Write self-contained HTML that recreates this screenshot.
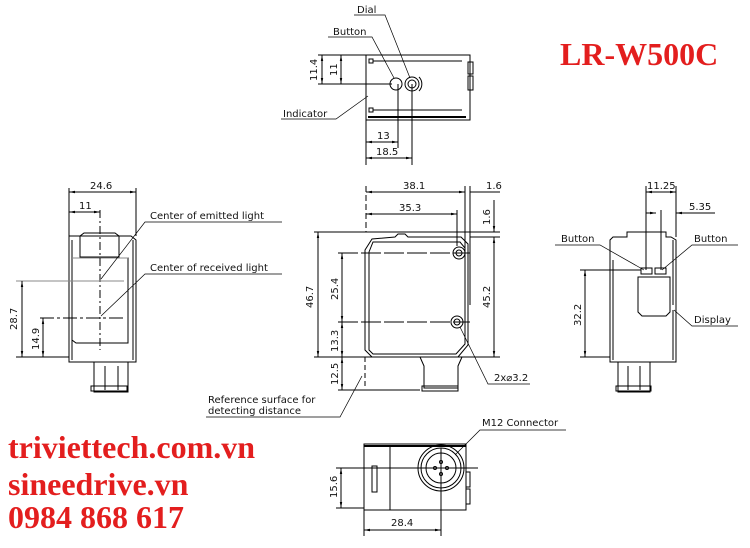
<!DOCTYPE html>
<html><head><meta charset="utf-8"><style>
html,body{margin:0;padding:0;background:#fff;}
svg{display:block;}
.t{font-family:"DejaVu Sans","Liberation Sans",sans-serif;font-size:10px;fill:#111;}
.r{font-family:"Liberation Serif",serif;font-weight:bold;fill:#e31e1e;}
</style></head><body>
<svg width="750" height="548" viewBox="0 0 750 548" xmlns="http://www.w3.org/2000/svg">
<defs><marker id="a" viewBox="0 0 10 10" refX="10" refY="5" markerWidth="6" markerHeight="6" orient="auto-start-reverse"><path d="M0,3L10,5L0,7z" fill="#000"/></marker></defs>
<g stroke="#000" stroke-width="1" fill="none">
<!-- TOP VIEW -->
<rect x="366" y="55" width="104" height="65"/>
<line x1="368" y1="117" x2="466" y2="117" stroke-width="2"/>
<rect x="468" y="62" width="5" height="12"/><rect x="468" y="76" width="5" height="14"/>
<rect x="369" y="59" width="4" height="4"/><line x1="373" y1="61" x2="462" y2="61"/>
<rect x="369" y="108" width="4" height="4"/><line x1="373" y1="110" x2="462" y2="110"/>
<circle cx="396" cy="84" r="6"/><circle cx="412" cy="84" r="7"/><circle cx="412" cy="84" r="4"/>
<path d="M419,77 a10,10 0 0 1 0,14"/>
<line x1="318" y1="84" x2="392" y2="84"/><line x1="318" y1="55" x2="366" y2="55"/>
<line x1="322" y1="55" x2="322" y2="84" marker-start="url(#a)" marker-end="url(#a)"/>
<line x1="341" y1="55" x2="341" y2="84" marker-start="url(#a)" marker-end="url(#a)"/>
<line x1="366" y1="120" x2="366" y2="165"/><line x1="398" y1="84" x2="398" y2="148"/><line x1="412" y1="84" x2="412" y2="165"/>
<line x1="366" y1="142" x2="398" y2="142" marker-start="url(#a)" marker-end="url(#a)"/>
<line x1="366" y1="158" x2="412" y2="158" marker-start="url(#a)" marker-end="url(#a)"/>
<polyline points="354,15 385,15 410,78" stroke-width="0.7"/>
<polyline points="328,37 372,37 394,78" stroke-width="0.7"/>
<polyline points="281,119 336,119 368,96" stroke-width="0.7"/>
<!-- LEFT VIEW -->
<path d="M69,240 L69,362 L136,362 L136,240 L131,236 L69,236 Z"/>
<line x1="72" y1="240" x2="72" y2="360"/><line x1="133" y1="240" x2="133" y2="360"/>
<path d="M80,257 L80,236 L84,233 L115,233 L119,236 L119,257 Z"/>
<path d="M72,258 L128,258 L128,343 L76,343 L72,340 Z"/>
<line x1="72" y1="258" x2="128" y2="258" stroke="#888"/>
<path d="M94,362 L94,392 L128,392 L128,362"/><line x1="105" y1="366" x2="105" y2="390"/><line x1="118" y1="366" x2="118" y2="390"/>
<rect x="91" y="386" width="36" height="5"/>
<line x1="69" y1="188" x2="69" y2="236"/><line x1="136" y1="188" x2="136" y2="236"/><line x1="100" y1="210" x2="100" y2="350" stroke-dasharray="8,3,2,3"/>
<line x1="69" y1="192" x2="136" y2="192" marker-start="url(#a)" marker-end="url(#a)"/>
<line x1="69" y1="212" x2="100" y2="212" marker-start="url(#a)" marker-end="url(#a)"/>
<line x1="16" y1="281" x2="124" y2="281" stroke="#888"/>
<line x1="40" y1="318" x2="124" y2="318" stroke-dasharray="14,3,3,3"/>
<line x1="16" y1="357" x2="69" y2="357"/>
<line x1="22" y1="281" x2="22" y2="357" marker-start="url(#a)" marker-end="url(#a)"/>
<line x1="43" y1="318" x2="43" y2="357" marker-start="url(#a)" marker-end="url(#a)"/>
<polyline points="282,222 145,222 101,279" stroke-width="0.7"/>
<polyline points="282,274 145,274 101,316" stroke-width="0.7"/>
<!-- FRONT VIEW -->
<path d="M365,250 L372,239 L395,237 L398,234 L405,234 L408,237 L461,237 L468,244 L468,345 L458,357 L372,357 L365,350 Z"/>
<path d="M369,252 L373,242 L460,242 L465,248 L465,344 L456,354 L373,354 L369,350 Z"/>
<circle cx="459" cy="253" r="6"/><circle cx="459" cy="253" r="3"/>
<circle cx="457" cy="322" r="6"/><circle cx="457" cy="322" r="3"/>
<path d="M420,357 L424,366 L424,388 L458,388 L458,366 L462,357"/><rect x="422" y="386" width="36" height="5"/>
<line x1="366" y1="186" x2="366" y2="232" stroke-dasharray="6,3"/><line x1="365" y1="357" x2="365" y2="388" stroke-dasharray="5,3"/>
<line x1="465" y1="186" x2="465" y2="255"/><line x1="470" y1="186" x2="470" y2="305"/><line x1="457" y1="210" x2="457" y2="246"/>
<line x1="366" y1="192" x2="465" y2="192" marker-start="url(#a)" marker-end="url(#a)"/>
<line x1="470" y1="192" x2="500" y2="192"/>
<line x1="366" y1="214" x2="457" y2="214" marker-start="url(#a)" marker-end="url(#a)"/>
<line x1="314" y1="232" x2="500" y2="232"/><line x1="470" y1="237" x2="500" y2="237"/>
<line x1="314" y1="357" x2="500" y2="357"/>
<line x1="338" y1="253" x2="470" y2="253" stroke-dasharray="20,3"/><line x1="338" y1="322" x2="470" y2="322" stroke-dasharray="20,3"/>
<line x1="338" y1="390" x2="420" y2="390"/>
<line x1="318" y1="232" x2="318" y2="357" marker-start="url(#a)" marker-end="url(#a)"/>
<line x1="342" y1="253" x2="342" y2="322" marker-start="url(#a)" marker-end="url(#a)"/>
<line x1="342" y1="322" x2="342" y2="357" marker-start="url(#a)" marker-end="url(#a)"/>
<line x1="342" y1="357" x2="342" y2="390" marker-start="url(#a)" marker-end="url(#a)"/>
<line x1="494" y1="200" x2="494" y2="232" marker-end="url(#a)"/>
<line x1="494" y1="237" x2="494" y2="357" marker-start="url(#a)" marker-end="url(#a)"/>
<polyline points="530,384 488,384 460,327" stroke-width="0.7"/>
<polyline points="206,417 340,417 362,376" stroke-width="0.7"/>
<!-- RIGHT VIEW -->
<path d="M610,240 L610,362 L676,362 L676,240 L671,237 L666,237 L666,232 L627,232 L627,237 L613,237 Z"/>
<line x1="613" y1="260" x2="613" y2="360"/><line x1="673" y1="240" x2="673" y2="305"/><line x1="673" y1="310" x2="673" y2="360"/>
<rect x="641" y="268" width="11" height="6"/><rect x="655" y="268" width="11" height="6"/>
<path d="M638,277 L670,277 L670,312 L666,316 L642,316 L638,312 Z"/>
<path d="M618,362 L618,392 L650,392 L650,362"/><line x1="628" y1="366" x2="628" y2="390"/><line x1="640" y1="366" x2="640" y2="390"/>
<rect x="616" y="386" width="35" height="5"/>
<line x1="646" y1="186" x2="646" y2="270"/><line x1="676" y1="186" x2="676" y2="237"/><line x1="661" y1="210" x2="661" y2="270"/>
<line x1="646" y1="192" x2="676" y2="192" marker-start="url(#a)" marker-end="url(#a)"/>
<line x1="646" y1="213" x2="656" y2="213" marker-end="url(#a)"/><line x1="686" y1="213" x2="676" y2="213" marker-end="url(#a)"/><line x1="686" y1="213" x2="715" y2="213"/>
<line x1="580" y1="270" x2="641" y2="270"/><line x1="580" y1="357" x2="610" y2="357"/>
<line x1="585" y1="270" x2="585" y2="357" marker-start="url(#a)" marker-end="url(#a)"/>
<polyline points="555,245 600,245 644,270" stroke-width="0.7"/>
<polyline points="738,245 692,245 662,270" stroke-width="0.7"/>
<polyline points="738,326 692,326 674,310" stroke-width="0.7"/>
<!-- BOTTOM VIEW -->
<rect x="364" y="444" width="102" height="66"/>
<line x1="364" y1="446" x2="466" y2="446" stroke-width="2"/>
<line x1="390" y1="446" x2="390" y2="510"/>
<rect x="372" y="466" width="5" height="26"/>
<rect x="466" y="472" width="4" height="15"/><rect x="466" y="489" width="4" height="15"/>
<circle cx="441" cy="468" r="23"/><circle cx="441" cy="468" r="20"/><circle cx="441" cy="468" r="15"/>
<circle cx="435" cy="468" r="1.5"/><circle cx="447" cy="468" r="1.5"/><circle cx="441" cy="462" r="1.5"/><circle cx="441" cy="474" r="1.5"/>
<line x1="336" y1="468" x2="478" y2="468"/><line x1="441" y1="448" x2="441" y2="536"/>
<line x1="336" y1="508" x2="364" y2="508"/><line x1="364" y1="510" x2="364" y2="536"/>
<line x1="341" y1="468" x2="341" y2="508" marker-start="url(#a)" marker-end="url(#a)"/>
<line x1="364" y1="530" x2="441" y2="530" marker-start="url(#a)" marker-end="url(#a)"/>
<polyline points="566,430 480,430 455,455" stroke-width="0.7"/>
</g>
<g class="t">
<text x="357" y="13">Dial</text><text x="333" y="35">Button</text><text x="283" y="117">Indicator</text>
<text x="377" y="139">13</text><text x="376" y="155">18.5</text>
<text transform="translate(317,81) rotate(-90)">11.4</text><text transform="translate(337,76) rotate(-90)">11</text>
<text x="90" y="189">24.6</text><text x="79" y="209">11</text>
<text x="150" y="219">Center of emitted light</text><text x="150" y="271">Center of received light</text>
<text transform="translate(17,330) rotate(-90)">28.7</text><text transform="translate(39,350) rotate(-90)">14.9</text>
<text x="403" y="189">38.1</text><text x="486" y="189">1.6</text><text x="399" y="211">35.3</text>
<text transform="translate(490,225) rotate(-90)">1.6</text>
<text transform="translate(313,308) rotate(-90)">46.7</text><text transform="translate(490,308) rotate(-90)">45.2</text>
<text transform="translate(338,300) rotate(-90)">25.4</text><text transform="translate(338,352) rotate(-90)">13.3</text>
<text transform="translate(338,385) rotate(-90)">12.5</text>
<text x="494" y="381">2x⌀3.2</text>
<text x="208" y="403">Reference surface for</text><text x="208" y="414">detecting distance</text>
<text x="647" y="189">11.25</text><text x="689" y="210">5.35</text>
<text x="561" y="242">Button</text><text x="694" y="242">Button</text><text x="694" y="323">Display</text>
<text transform="translate(581,326) rotate(-90)">32.2</text>
<text x="482" y="426">M12 Connector</text>
<text transform="translate(337,498) rotate(-90)">15.6</text><text x="391" y="526">28.4</text>
</g>
<text class="r" x="560" y="65" font-size="32">LR-W500C</text>
<text class="r" x="8" y="458" font-size="32">triviettech.com.vn</text>
<text class="r" x="8" y="495" font-size="32">sineedrive.vn</text>
<text class="r" x="8" y="528" font-size="32">0984 868 617</text>
</svg>
</body></html>
